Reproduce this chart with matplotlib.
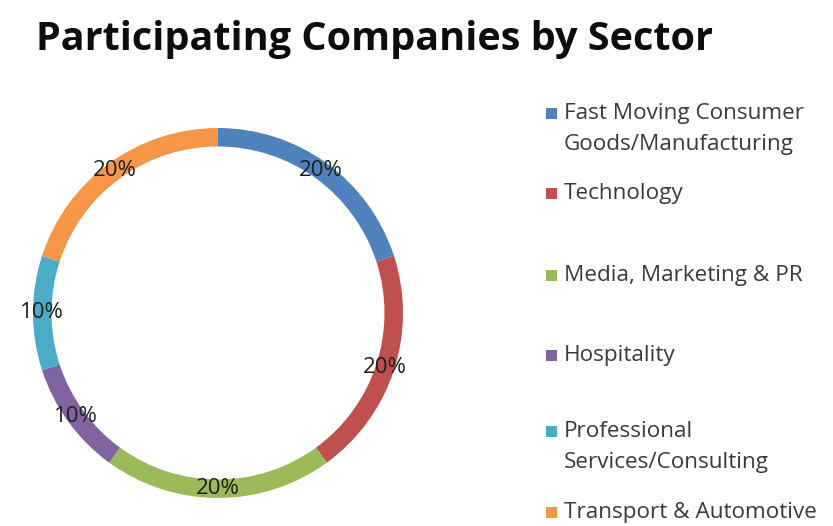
import matplotlib.pyplot as plt
from matplotlib.patches import Rectangle

# Chart data
sectors = ['Fast Moving Consumer Goods/Manufacturing', 'Technology', 'Media, Marketing & PR',
           'Hospitality', 'Professional Services/Consulting', 'Transport & Automotive']
shares = [20, 20, 20, 10, 10, 20]
legend_lines = [['Fast Moving Consumer', 'Goods/Manufacturing'], ['Technology'], ['Media, Marketing & PR'],
                ['Hospitality'], ['Professional', 'Services/Consulting'], ['Transport & Automotive']]
colors = ['#4F81BD', '#C0504D', '#9BBB59', '#8064A2', '#4BACC6', '#F79646']

W, H = 833, 526
plt.rcParams['font.family'] = ['Open Sans', 'DejaVu Sans']

fig = plt.figure(figsize=(W / 100, H / 100), dpi=100)

# Title
fig.text(36 / W, 1 - 50 / H, 'Participating Companies by Sector', fontsize=28.5, fontweight='bold',
         color='#0d0d0d', ha='left', va='baseline')

# Doughnut ring
cx, cy, r = 218, 313, 185
ax = fig.add_axes([(cx - r) / W, (H - cy - r) / H, 2 * r / W, 2 * r / H])
wedges, texts, autotexts = ax.pie(shares, colors=colors, startangle=90, counterclock=False,
                                  radius=1.0, autopct='%d%%', pctdistance=0.95,
                                  wedgeprops=dict(width=0.1, edgecolor='none'),
                                  textprops=dict(fontsize=16, color='#1f1f1f'))
ax.set_xlim(-1, 1)
ax.set_ylim(-1, 1)
ax.set_aspect('equal')
ax.axis('off')

# Legend (Excel-style, hand placed)
baselines = [[119, 150], [199], [281], [361], [437, 468], [518]]
for lines, ys, col in zip(legend_lines, baselines, colors):
    y0 = ys[0]
    fig.patches.append(Rectangle((546 / W, 1 - y0 / H), 11 / W, 11 / H,
                                 transform=fig.transFigure, facecolor=col, edgecolor='none'))
    for txt, yb in zip(lines, ys):
        fig.text(564 / W, 1 - yb / H, txt, fontsize=16.2, color='#3a3a3a', ha='left', va='baseline')

fig.savefig('out.png', dpi=100, facecolor='white')
